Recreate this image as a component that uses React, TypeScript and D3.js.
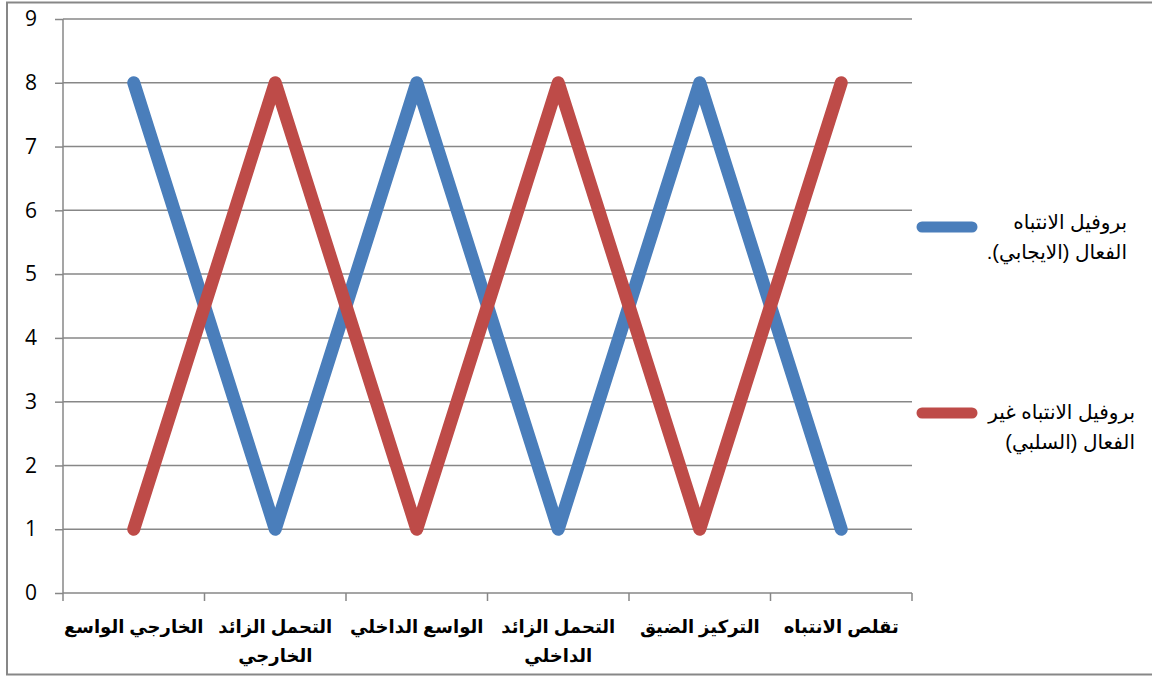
import React, { useEffect, useRef } from 'react';
import { axisLeft, line, scaleBand, scaleLinear, select } from 'd3';

const categories = [
  ['الخارجي الواسع'],
  ['التحمل الزائد', 'الخارجي'],
  ['الواسع الداخلي'],
  ['التحمل الزائد', 'الداخلي'],
  ['التركيز الضيق'],
  ['تقلص الانتباه'],
];
const positiveValues = [8, 1, 8, 1, 8, 1];
const negativeValues = [1, 8, 1, 8, 1, 8];
const yTicks = [0, 1, 2, 3, 4, 5, 6, 7, 8, 9];
const seriesNames = [
  ['بروفيل الانتباه', 'الفعال (الايجابي).'],
  ['بروفيل الانتباه غير', 'الفعال (السلبي)'],
];
const seriesColors = ['#4a7ebb', '#be4b48'];

const App = () => {
  const chartRef = useRef<SVGSVGElement | null>(null);

  useEffect(() => {
    const svg = select(chartRef.current);
    const width = 1152;
    const height = 677;
    const plot = { left: 63, right: 912, top: 19, bottom: 593 };
    const grid = '#878787';
    const font = '"Liberation Sans", Arial, "DejaVu Sans", sans-serif';

    svg.selectAll('*').remove();
    svg.attr('width', width).attr('height', height);

    // chart frame
    svg
      .append('rect')
      .attr('x', 7)
      .attr('y', 2.5)
      .attr('width', 1160)
      .attr('height', 672)
      .attr('fill', 'white')
      .attr('stroke', grid)
      .attr('stroke-width', 2);

    const keys = categories.map((c) => c.join(' '));
    const x = scaleBand().domain(keys).range([plot.left, plot.right]);
    const y = scaleLinear().domain([0, 9]).range([plot.bottom, plot.top]);

    // gridlines
    svg
      .append('g')
      .selectAll('line')
      .data(yTicks.filter((t) => t > 0))
      .enter()
      .append('line')
      .attr('x1', plot.left)
      .attr('x2', plot.right)
      .attr('y1', (d) => y(d))
      .attr('y2', (d) => y(d))
      .attr('stroke', grid)
      .attr('stroke-width', 1.5);

    // y axis
    const yAxis = svg
      .append('g')
      .attr('transform', `translate(${plot.left},0)`)
      .call(axisLeft(y).tickValues(yTicks).tickSize(8).tickPadding(18));
    yAxis.selectAll('path, line').attr('stroke', grid).attr('stroke-width', 1.5);
    yAxis.select('.domain').attr('d', `M0,${plot.top}V${plot.bottom}`);
    yAxis
      .selectAll('text')
      .attr('fill', '#000')
      .style('font-family', '"Open Sans", "Noto Sans", sans-serif')
      .style('font-size', '21px');

    // x axis
    const xAxis = svg.append('g');
    xAxis
      .append('line')
      .attr('x1', plot.left)
      .attr('x2', plot.right)
      .attr('y1', plot.bottom)
      .attr('y2', plot.bottom)
      .attr('stroke', grid)
      .attr('stroke-width', 1.5);
    const edges = keys.map((k) => x(k) ?? 0).concat([plot.right]);
    xAxis
      .selectAll('.tick')
      .data(edges)
      .enter()
      .append('line')
      .attr('x1', (d) => d)
      .attr('x2', (d) => d)
      .attr('y1', plot.bottom)
      .attr('y2', plot.bottom + 8)
      .attr('stroke', grid)
      .attr('stroke-width', 1.5);
    const labels = xAxis
      .selectAll('.lbl')
      .data(categories)
      .enter()
      .append('text')
      .attr('direction', 'rtl')
      .attr('text-anchor', 'middle')
      .attr('font-family', font)
      .attr('font-weight', 'bold')
      .attr('font-size', 18)
      .attr('fill', '#000');
    labels
      .selectAll('tspan')
      .data((d) => d.map((t, i) => ({ t, i, key: d.join(' ') })))
      .enter()
      .append('tspan')
      .attr('x', (d) => (x(d.key) ?? 0) + x.bandwidth() / 2)
      .attr('y', (d) => 633 + d.i * 29)
      .text((d) => d.t);

    // series
    const lineGen = line<number>()
      .x((_, i) => (x(keys[i]) ?? 0) + x.bandwidth() / 2)
      .y((d) => y(d));
    [positiveValues, negativeValues].forEach((vals, s) => {
      svg
        .append('path')
        .attr('d', lineGen(vals))
        .attr('fill', 'none')
        .attr('stroke', seriesColors[s])
        .attr('stroke-width', 13)
        .attr('stroke-linecap', 'round')
        .attr('stroke-linejoin', 'round');
    });

    // legend
    const legendY = [227, 413];
    const legendRight = [1127, 1135];
    seriesNames.forEach((name, s) => {
      svg
        .append('line')
        .attr('x1', 922)
        .attr('x2', 972)
        .attr('y1', legendY[s])
        .attr('y2', legendY[s])
        .attr('stroke', seriesColors[s])
        .attr('stroke-width', 11)
        .attr('stroke-linecap', 'round');
      const t = svg
        .append('text')
        .attr('direction', 'rtl')
        .attr('text-anchor', 'start')
        .attr('font-family', font)
        .attr('font-size', 20)
        .attr('fill', '#000');
      name.forEach((n, i) => {
        t.append('tspan')
          .attr('x', legendRight[s])
          .attr('y', legendY[s] + 6 + i * 30 - (s === 0 ? 4 : 0))
          .text(n);
      });
    });
  }, []);

  return (
    <svg
      ref={chartRef}
      style={{ position: 'absolute', left: 0, top: 0, display: 'block' }}
    />
  );
};

export default App;
